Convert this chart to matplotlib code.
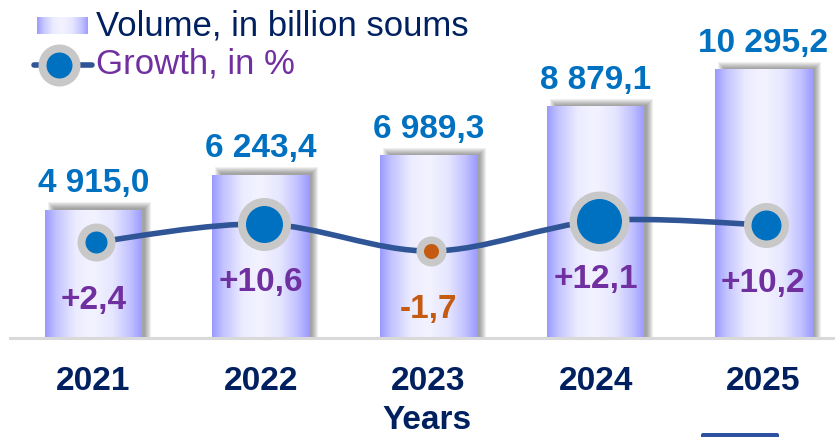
import numpy as np
import matplotlib
matplotlib.use('Agg')
import matplotlib.pyplot as plt
from matplotlib.colors import LinearSegmentedColormap
from matplotlib.patches import Rectangle, FancyBboxPatch, PathPatch
from matplotlib.path import Path
import matplotlib.transforms as mtransforms

# ---------------- data ----------------
years = ['2021', '2022', '2023', '2024', '2025']
volume = [4915.0, 6243.4, 6989.3, 8879.1, 10295.2]
growth = [2.4, 10.6, -1.7, 12.1, 10.2]

legend_volume = 'Volume, in billion soums'
legend_growth = 'Growth, in %'
x_title = 'Years'

# ---------------- styles ----------------
FONT = 'Liberation Sans'
plt.rcParams['font.family'] = [FONT, 'DejaVu Sans']
W, H = 835, 437
C_VALUE = '#0070C0'
C_POS = '#7030A0'
C_NEG = '#C55A11'
C_NAVY = '#002060'
C_LINE = '#2F5597'
C_RING = '#C8C8C8'
marker_outer_px = [38, 53, 30, 60, 45]
marker_inner_px = [22, 37, 15, 45, 30]

bar_cmap = LinearSegmentedColormap.from_list('cyl', [
    (0.0, '#9A9AFF'), (0.12, '#C4C4FF'), (0.32, '#ECECFF'), (0.5, '#F3F3FF'),
    (0.7, '#E6E6FF'), (0.88, '#C2C2FF'), (1.0, '#9C9CFF')])

fig = plt.figure(figsize=(W / 100, H / 100), dpi=100)
base_px = 338
ax = fig.add_axes([0, (H - base_px) / H, 1, base_px / H])
ax.set_zorder(1)
ax.patch.set_visible(False)

x = np.arange(len(years))
spacing_px = 167.4
xlim = (-93.5 / spacing_px, (W - 93.5) / spacing_px)
ytop = base_px * volume[0] / 128.0
bw = 97 / spacing_px
px_x = (xlim[1] - xlim[0]) / W
px_y = ytop / base_px

# shadows
for xc, v in zip(x, volume):
    for e in np.arange(-3, 4, 1.0):
        ax.add_patch(Rectangle((xc - bw / 2 + (6 - e) * px_x, 0),
                               bw + 2 * e * px_x, v + (5 + e) * px_y,
                               facecolor='#333333', alpha=0.08, lw=0, zorder=1))
# bars with cylinder gradient
grad = np.linspace(0, 1, 256)[np.newaxis, :]
for xc, v in zip(x, volume):
    ax.imshow(grad, extent=[xc - bw / 2, xc + bw / 2, 0, v], aspect='auto',
              cmap=bar_cmap, interpolation='bicubic', zorder=3)
ax.set_xlim(*xlim)
ax.set_ylim(0, ytop)
ax.axhline(0, xmin=10 / W, xmax=1, color='#D9D9D9', lw=2.2, zorder=4, clip_on=False)

for s in ax.spines.values():
    s.set_visible(False)
ax.set_yticks([])
ax.set_xticks(x)
ax.set_xticklabels(years, fontsize=24, fontweight='bold', color=C_NAVY)
ax.tick_params(axis='x', length=0, pad=20)

# value labels
for xc, v in zip(x, volume):
    txt = f"{v:,.1f}".replace(',', ' ').replace('.', ',')
    ax.annotate(txt, (xc, v), xytext=(0, 13), textcoords='offset points',
                ha='center', va='baseline', fontsize=24, fontweight='bold',
                color=C_VALUE, zorder=6)

# growth line (secondary axis)
ax2 = ax.twinx()
ax2.set_zorder(2)
ax2.patch.set_visible(False)
zero_px = 90.7
g_px = 2.19
ax2.set_ylim(-zero_px / g_px, (base_px - zero_px) / g_px)
ax2.set_xlim(*xlim)
ax2.set_yticks([])
for s in ax2.spines.values():
    s.set_visible(False)

tr = mtransforms.offset_copy(ax2.transData, fig=fig, x=3, y=0, units='dots')
pts = np.column_stack([x, growth]).astype(float)
n = len(pts)
verts = [pts[0]]
codes = [Path.MOVETO]
for i in range(n - 1):
    p_prev = pts[i - 1] if i > 0 else pts[i]
    p_next2 = pts[i + 2] if i + 2 < n else pts[i + 1]
    c1 = pts[i] + (pts[i + 1] - p_prev) / 6
    c2 = pts[i + 1] - (p_next2 - pts[i]) / 6
    verts += [c1, c2, pts[i + 1]]
    codes += [Path.CURVE4] * 3
ax2.add_patch(PathPatch(Path(verts, codes), facecolor='none', edgecolor=C_LINE,
                        lw=4.0, transform=tr, zorder=3, capstyle='round'))
for xc, g, o, inn in zip(x, growth, marker_outer_px, marker_inner_px):
    ms = (o + inn) / 2 * 0.72
    mew = (o - inn) / 2 * 0.72
    ax2.plot([xc], [g], 'o', ms=ms, mew=mew, mec=C_RING,
             mfc=C_VALUE if g >= 0 else C_NEG,
             transform=tr, zorder=4, clip_on=False)
    txt = f"{g:+.1f}".replace('.', ',')
    ax2.annotate(txt, (xc, g), xytext=(0, -48.2), textcoords='offset points',
                 ha='center', va='baseline', fontsize=24, fontweight='bold',
                 color=C_POS if g >= 0 else C_NEG, zorder=6)

# axis title
fig.text(427 / W, 1 - 429 / H, x_title, ha='center', va='baseline',
         fontsize=24, fontweight='bold', color=C_NAVY)

# legend (manual, figure pixel coordinates)
axl = fig.add_axes([0, 0, 1, 1], zorder=5)
axl.set_xlim(0, W)
axl.set_ylim(H, 0)
axl.axis('off')
axl.imshow(grad, extent=[37, 88, 34, 17], aspect='auto', cmap=bar_cmap,
           interpolation='bicubic')
axl.text(96, 36, legend_volume, fontsize=25, color=C_NAVY, va='baseline', ha='left')
axl.plot([34, 92], [65, 65], color=C_LINE, lw=4.0, solid_capstyle='round')
axl.plot([59], [65], 'o', ms=34 * 0.72, mew=8 * 0.72, mec=C_RING, mfc=C_VALUE)
axl.text(96, 74, legend_growth, fontsize=25, color=C_POS, va='baseline', ha='left')
axl.add_patch(FancyBboxPatch((701, 433), 78, 8, boxstyle='round,pad=0,rounding_size=2',
                             facecolor='#2F52A0', lw=0))
axl.set_xlim(0, W)
axl.set_ylim(H, 0)

fig.savefig('out.png', dpi=100)
